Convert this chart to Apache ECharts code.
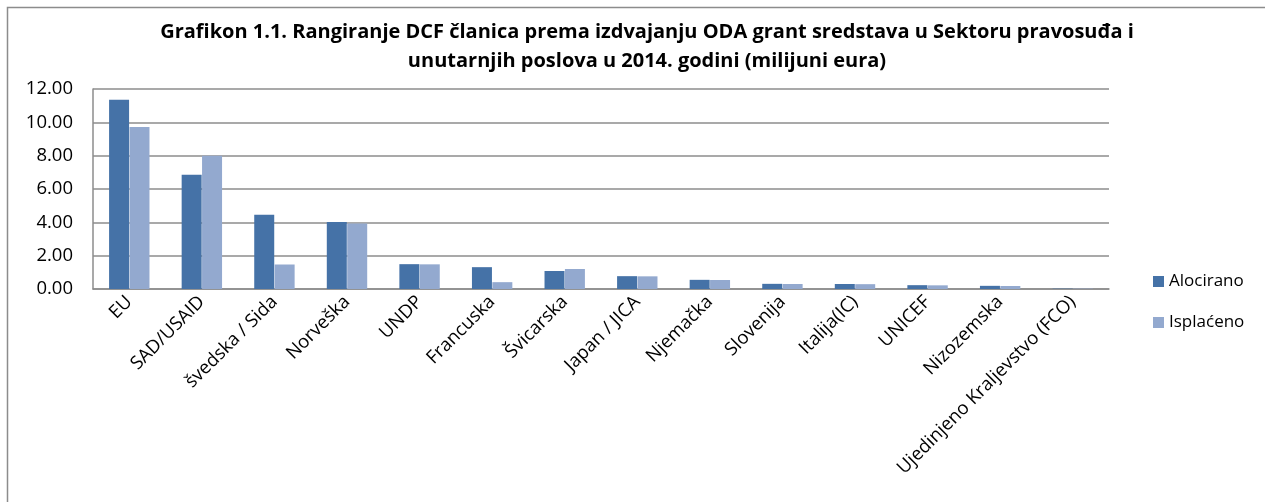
<!DOCTYPE html>
<html>
<head>
<meta charset="utf-8">
<script src="https://cdn.jsdelivr.net/npm/echarts@6/dist/echarts.min.js"></script>
<style>
  html, body { margin: 0; padding: 0; background: #fff; }
  #chart { width: 1265px; height: 502px; }
</style>
</head>
<body>
<div id="chart"></div>
<script>
const categories = ['EU', 'SAD/USAID', 'švedska / Sida', 'Norveška', 'UNDP', 'Francuska', 'Švicarska',
  'Japan / JICA', 'Njemačka', 'Slovenija', 'Italija(IC)', 'UNICEF', 'Nizozemska', 'Ujedinjeno Kraljevstvo (FCO)'];
const alocirano = [11.35, 6.85, 4.45, 4.02, 1.49, 1.31, 1.08, 0.77, 0.55, 0.31, 0.30, 0.23, 0.19, 0.02];
const isplaceno = [9.72, 8.00, 1.47, 3.93, 1.48, 0.41, 1.20, 0.76, 0.54, 0.30, 0.29, 0.22, 0.18, 0.02];
const yTicks = [0, 2, 4, 6, 8, 10, 12];

const font = '"Open Sans", Lato, sans-serif';
const chart = echarts.init(document.getElementById('chart'));

chart.setOption({
  animation: false,
  textStyle: { fontFamily: font },
  title: {
    text: 'Grafikon 1.1. Rangiranje DCF članica prema izdvajanju ODA grant sredstava u Sektoru pravosuđa i\nunutarnjih poslova u 2014. godini (milijuni eura)',
    left: 642,
    top: 13,
    textAlign: 'center',
    textStyle: { fontFamily: font, fontSize: 20, fontWeight: 'bold', color: '#000', lineHeight: 29 }
  },
  graphic: [{
    type: 'rect',
    shape: { x: 7.5, y: 7.5, width: 1300, height: 520 },
    style: { fill: 'none', stroke: '#8c8c8c', lineWidth: 1.5 },
    silent: true
  }],
  legend: {
    orient: 'vertical',
    left: 1148,
    top: 268,
    itemWidth: 11,
    itemHeight: 11,
    itemGap: 24,
    icon: 'rect',
    textStyle: { fontFamily: font, fontSize: 17, color: '#000' },
    data: ['Alocirano', 'Isplaćeno']
  },
  grid: { left: 93, right: 156, top: 89, bottom: 213, containLabel: false },
  xAxis: {
    type: 'category',
    data: categories,
    axisLine: { lineStyle: { color: '#8c8c8c', width: 1.5 } },
    axisTick: { show: false },
    axisLabel: { rotate: 45, fontSize: 18.5, color: '#000', interval: 0, margin: 10, fontFamily: font }
  },
  yAxis: {
    type: 'value',
    min: yTicks[0],
    max: yTicks[yTicks.length - 1],
    interval: 2,
    axisLine: { show: true, lineStyle: { color: '#8c8c8c', width: 1.5 } },
    axisTick: { show: false },
    splitLine: { lineStyle: { color: '#8c8c8c', width: 1.5 } },
    axisLabel: { fontSize: 18.5, color: '#000', margin: 20, fontFamily: font, formatter: v => v.toFixed(2) }
  },
  series: [
    {
      name: 'Alocirano',
      type: 'bar',
      data: alocirano,
      barWidth: 20,
      barGap: '2%',
      itemStyle: { color: '#4572A7' }
    },
    {
      name: 'Isplaćeno',
      type: 'bar',
      data: isplaceno,
      barWidth: 20,
      itemStyle: { color: '#93A9CF' }
    }
  ]
});
</script>
</body>
</html>
